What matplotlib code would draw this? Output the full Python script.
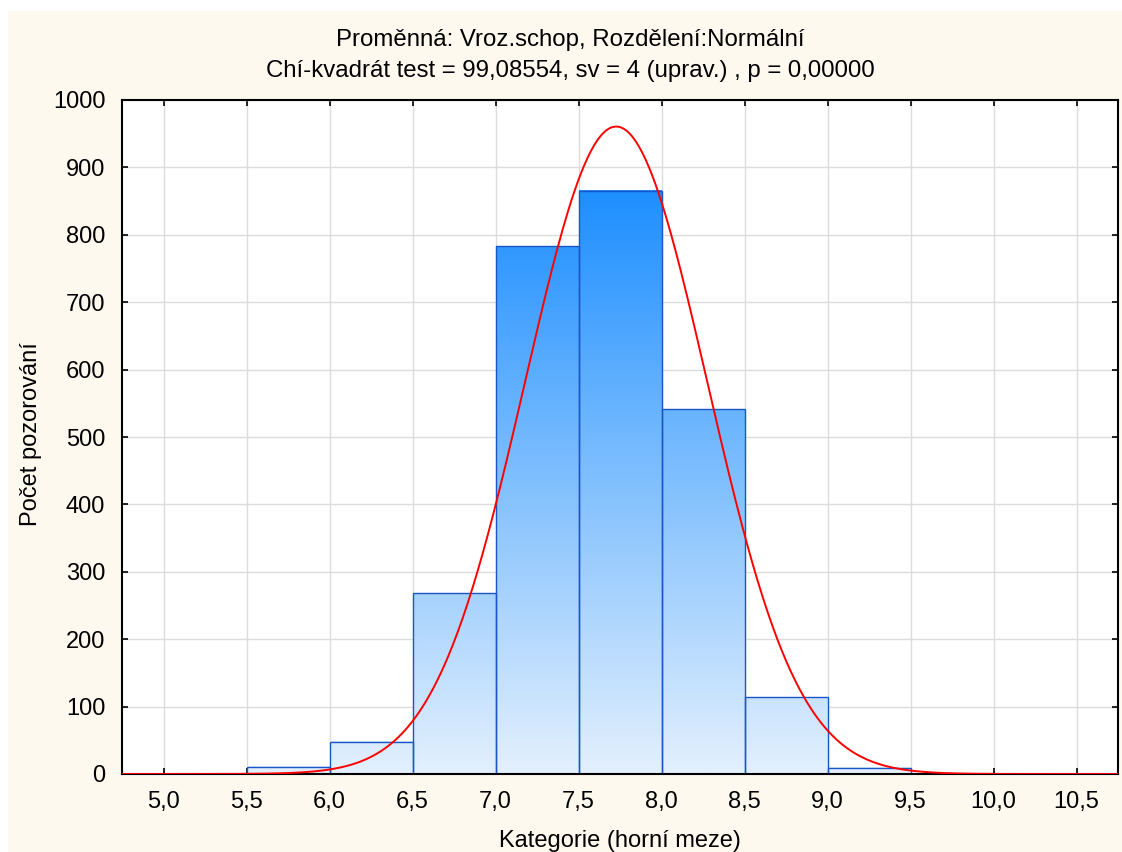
import matplotlib

matplotlib.use("Agg")
import matplotlib.pyplot as plt
from matplotlib.colors import LinearSegmentedColormap, Normalize
from matplotlib.patches import Rectangle
import numpy as np

# histogram: upper category limits and observed counts
bin_lower = [5.5, 6.0, 6.5, 7.0, 7.5, 8.0, 8.5, 9.0]
bin_upper = [6.0, 6.5, 7.0, 7.5, 8.0, 8.5, 9.0, 9.5]
counts = [11, 48, 268, 783, 865, 541, 114, 9]

# fitted normal distribution
fit_mean = 7.727
fit_sd = 0.548

x_ticks = [5.0, 5.5, 6.0, 6.5, 7.0, 7.5, 8.0, 8.5, 9.0, 9.5, 10.0, 10.5]
x_tick_labels = ["5,0", "5,5", "6,0", "6,5", "7,0", "7,5", "8,0", "8,5",
                 "9,0", "9,5", "10,0", "10,5"]
y_ticks = [0, 100, 200, 300, 400, 500, 600, 700, 800, 900, 1000]

title_1 = "Proměnná: Vroz.schop, Rozdělení:Normální"
title_2 = "Chí-kvadrát test = 99,08554, sv = 4 (uprav.) , p = 0,00000"

plt.rcParams["font.family"] = ["Liberation Sans", "DejaVu Sans"]

W, H = 1122, 852
fig = plt.figure(figsize=(W / 100, H / 100), dpi=100, facecolor="white")
panel = Rectangle((8 / W, 0), 1 - 8 / W, 1 - 11 / H, transform=fig.transFigure,
                  facecolor="#fdf9ee", edgecolor="none", zorder=-10)
fig.add_artist(panel)

ax = fig.add_axes([122 / W, 1 - 774 / H, (1118 - 122) / W, (774 - 100) / H])
ax.set_zorder(1)
ax.set_facecolor("white")

bar_cmap = LinearSegmentedColormap.from_list("bars", ["#e3f0fd", "#1e8fff"])
top = max(counts)
norm = Normalize(0, top)
for lo, hi, c in zip(bin_lower, bin_upper, counts):
    grad = np.linspace(0, c, 200).reshape(-1, 1)
    ax.imshow(grad, cmap=bar_cmap, norm=norm, extent=(lo, hi, 0, c),
              origin="lower", aspect="auto", zorder=1, interpolation="bilinear")
    ax.add_patch(Rectangle((lo, 0), hi - lo, c, facecolor="none",
                           edgecolor="#1a56c8", linewidth=1.0, zorder=2))

bin_width = bin_upper[0] - bin_lower[0]
n_total = sum(counts)
xs = np.linspace(4.75, 10.75, 600)
curve = n_total * bin_width / (fit_sd * np.sqrt(2 * np.pi)) * np.exp(
    -0.5 * ((xs - fit_mean) / fit_sd) ** 2)
ax.plot(xs, curve, color="#ff0000", linewidth=1.4, zorder=3)

ax.set_xlim(4.75, 10.75)
ax.set_ylim(0, 1000)
ax.set_xticks(x_ticks)
ax.set_xticklabels(x_tick_labels)
ax.set_yticks(y_ticks)
ax.grid(True, color="#dcdcdc", linewidth=1.0)
ax.set_axisbelow(True)
ax.tick_params(direction="in", length=4, width=1.2, top=True, right=True,
               labelsize=17, pad=12, colors="black")
for spine in ax.spines.values():
    spine.set_linewidth(1.5)
    spine.set_color("black")

fig.text(620 / W, 1 - 841 / H, "Kategorie (horní meze)", ha="center",
         va="center", fontsize=17)
fig.text(31 / W, 1 - 434 / H, "Počet pozorování", ha="center", va="center",
         rotation=90, fontsize=17)

fig.text(570 / W, 1 - 40 / H, title_1, ha="center", va="center", fontsize=17.3)
fig.text(570 / W, 1 - 71 / H, title_2, ha="center", va="center", fontsize=17.3)

fig.savefig("out.png", dpi=100)
